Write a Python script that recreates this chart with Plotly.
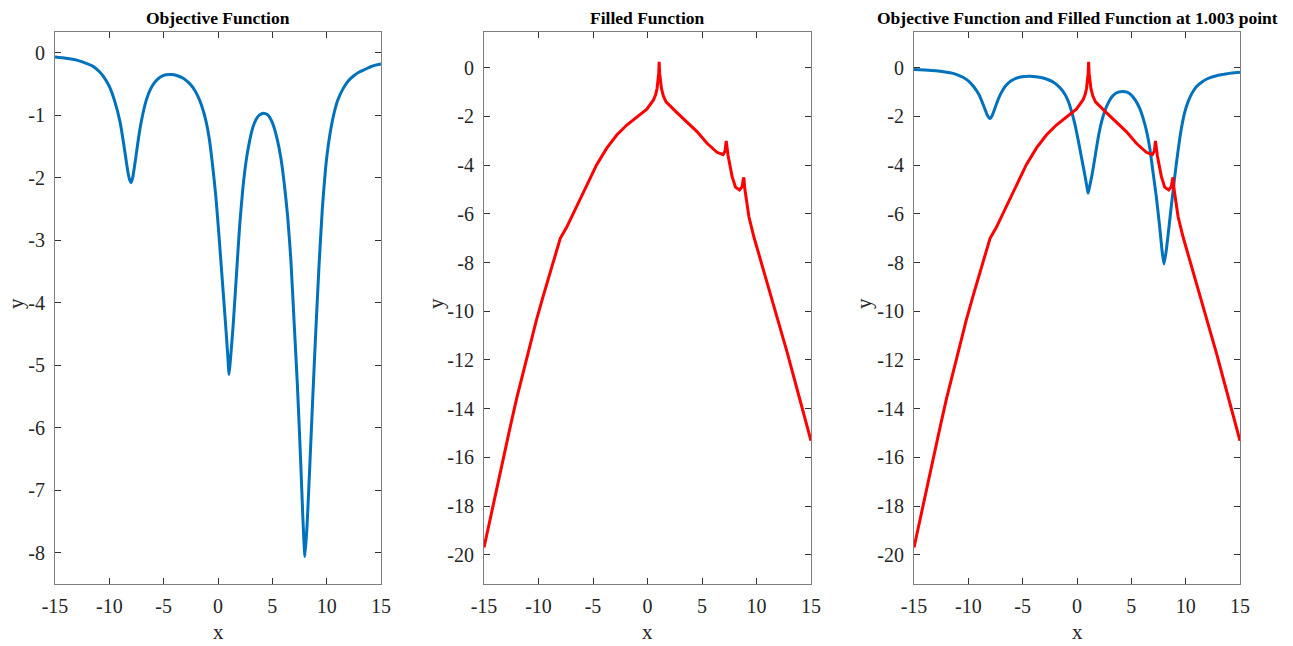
import plotly.graph_objects as go

# ---- data ----
obj_x = [-15, -14, -13, -12, -11.5, -11, -10.5, -10, -9.5, -9, -8.6, -8.3, -8.1, -8.0, -7.85,
         -7.6, -7.3, -7.0, -6.6, -6.2, -5.8, -5.3, -4.8, -4.3, -3.8, -3.2, -2.7, -2.3, -1.9,
         -1.5, -1.1, -0.8, -0.5, -0.2, 0.1, 0.4, 0.7, 0.9, 1.02, 1.15, 1.4, 1.7, 2.0, 2.3,
         2.6, 2.9, 3.2, 3.5, 3.8, 4.2, 4.6, 5.0, 5.4, 5.8, 6.1, 6.4, 6.7, 7.0, 7.3, 7.6, 7.8,
         8.0, 8.2, 8.45, 8.7, 9.0, 9.3, 9.6, 9.9, 10.2, 10.6, 11.0, 11.5, 12.0, 12.5, 13.0,
         13.5, 14.0, 14.5, 15]
obj_y = [-0.07, -0.09, -0.12, -0.18, -0.22, -0.29, -0.39, -0.54, -0.78, -1.12, -1.55, -1.9,
         -2.05, -2.08, -2.0, -1.72, -1.35, -1.05, -0.76, -0.58, -0.47, -0.39, -0.355, -0.35,
         -0.365, -0.41, -0.48, -0.56, -0.68, -0.85, -1.1, -1.38, -1.8, -2.3, -2.95, -3.65,
         -4.35, -4.85, -5.15, -4.9, -4.35, -3.55, -2.75, -2.15, -1.72, -1.42, -1.2, -1.07,
         -1.0, -0.97, -1.0, -1.12, -1.35, -1.7, -2.1, -2.6, -3.3, -4.3, -5.3, -6.5, -7.4,
         -8.06, -7.55, -6.6, -5.6, -4.45, -3.4, -2.5, -1.85, -1.42, -1.03, -0.77, -0.58,
         -0.45, -0.37, -0.31, -0.27, -0.23, -0.2, -0.18]

fill_x = [-15, -14.48, -13.87, -13.25, -12.64, -12.02, -11.41, -10.8, -10.18, -9.57, -8.96, -8.34,
          -8.0, -7.42, -6.5, -5.58, -4.66, -3.74, -2.82, -1.9, -0.98, -0.06, 0.55, 0.75, 0.88,
          0.97, 1.02, 1.05, 1.07, 1.09, 1.12, 1.18, 1.28, 1.45, 1.7, 2.7, 3.62, 4.54, 5.46,
          6.38, 6.93, 7.12, 7.22, 7.3, 7.4, 7.76, 8.07, 8.44, 8.68, 8.78, 8.84, 8.92, 9.14,
          9.3, 9.75, 10.37, 10.98, 11.6, 12.2, 12.82, 13.44, 14.05, 14.51, 15]
fill_y = [-19.7, -18.6, -17.35, -16.07, -14.84, -13.61, -12.52, -11.43, -10.34, -9.38, -8.43,
          -7.47, -7.0, -6.55, -5.69, -4.80, -3.98, -3.30, -2.76, -2.35, -2.03, -1.70, -1.32,
          -1.1, -0.85, -0.55, -0.25, 0.0, 0.25, 0.0, -0.25, -0.55, -0.85, -1.15, -1.4,
          -1.84, -2.21, -2.62, -3.10, -3.47, -3.57, -3.42, -3.0, -3.35, -3.62, -4.46, -4.90,
          -5.02, -4.88, -4.6, -4.5, -4.95, -5.69, -6.11, -6.93, -7.88, -8.84, -9.79, -10.75,
          -11.70, -12.73, -13.75, -14.57, -15.32]

x_ticks = [-15, -10, -5, 0, 5, 10, 15]
x_tick_text = ["-15", "-10", "-5", "0", "5", "10", "15"]
y1_ticks = [0, -1, -2, -3, -4, -5, -6, -7, -8]
y1_tick_text = ["0", "-1", "-2", "-3", "-4", "-5", "-6", "-7", "-8"]
y2_ticks = [0, -2, -4, -6, -8, -10, -12, -14, -16, -18, -20]
y2_tick_text = ["0", "-2", "-4", "-6", "-8", "-10", "-12", "-14", "-16", "-18", "-20"]

titles = ["Objective Function", "Filled Function",
          "Objective Function and Filled Function at 1.003 point"]

BLUE = "#0072BD"
RED = "#FF0000"
W, H = 1293, 646
FONT = "Liberation Serif"

fig = go.Figure()
blue_line = dict(color=BLUE, width=3, shape="spline", smoothing=0.5)
red_line = dict(color=RED, width=3)
fig.add_trace(go.Scatter(x=obj_x, y=obj_y, mode="lines", line=blue_line,
                         xaxis="x", yaxis="y", showlegend=False))
fig.add_trace(go.Scatter(x=fill_x, y=fill_y, mode="lines", line=red_line,
                         xaxis="x2", yaxis="y2", showlegend=False))
fig.add_trace(go.Scatter(x=obj_x, y=obj_y, mode="lines", line=blue_line,
                         xaxis="x3", yaxis="y3", showlegend=False))
fig.add_trace(go.Scatter(x=fill_x, y=fill_y, mode="lines", line=red_line,
                         xaxis="x3", yaxis="y3", showlegend=False))

lefts = [55, 484, 914]
rights = [381, 811, 1240]
top, bottom = 32, 584
ydom = [1 - bottom / H, 1 - top / H]

common = dict(showline=True, linecolor="#7f7f7f", linewidth=1.2, mirror="allticks",
              ticks="inside", ticklen=6, tickcolor="#333333", tickwidth=1,
              showgrid=False, zeroline=False, automargin=False,
              tickfont=dict(family=FONT, size=20, color="#262626"))

layout = dict(width=W, height=H, margin=dict(l=0, r=0, t=0, b=0, autoexpand=False),
              paper_bgcolor="white", plot_bgcolor="white", showlegend=False)

yranges = [[-8.5, 0.33], [-21.2, 1.47], [-21.2, 1.47]]
yt = [(y1_ticks, y1_tick_text), (y2_ticks, y2_tick_text), (y2_ticks, y2_tick_text)]
for i in range(3):
    sx = "" if i == 0 else str(i + 1)
    layout["xaxis" + sx] = dict(common, domain=[lefts[i] / W, rights[i] / W], range=[-15, 15],
                                tickvals=x_ticks, ticktext=x_tick_text, anchor="y" + sx,
                                ticklabelstandoff=4)
    layout["yaxis" + sx] = dict(common, domain=ydom, range=yranges[i],
                                tickvals=yt[i][0], ticktext=yt[i][1], anchor="x" + sx,
                                ticklabelstandoff=5)

annotations = []
for i in range(3):
    cx = (lefts[i] + rights[i]) / 2 / W
    annotations.append(dict(text="<b>" + titles[i] + "</b>", x=cx, y=1 - 18 / H, xref="paper", yref="paper",
                            showarrow=False, xanchor="center", yanchor="middle",
                            font=dict(family=FONT, size=17.5, color="#000000")))
    annotations.append(dict(text="x", x=cx, y=1 - 632 / H, xref="paper", yref="paper",
                            showarrow=False, xanchor="center", yanchor="middle",
                            font=dict(family=FONT, size=21, color="#262626")))
ylab_x = [16, 436, 864]
for i in range(3):
    annotations.append(dict(text="y", x=ylab_x[i] / W, y=1 - 304 / H, xref="paper", yref="paper",
                            showarrow=False, xanchor="center", yanchor="middle", textangle=-90,
                            font=dict(family=FONT, size=21, color="#262626")))
layout["annotations"] = annotations

fig.update_layout(**layout)
fig.write_html("out.html")
